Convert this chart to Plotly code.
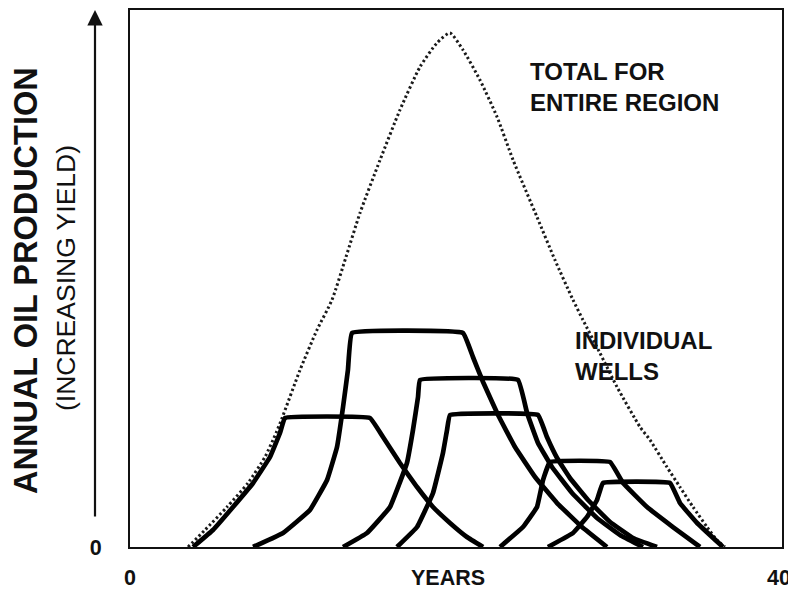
import plotly.graph_objects as go

# ---- data (years, relative annual yield 0-100) ----
total_x = [3.56, 4.60, 5.95, 7.24, 8.28, 8.96, 9.33, 10.43, 11.47, 12.39, 13.25, 14.11, 15.34, 16.56,
           17.79, 18.83, 19.63, 20.43, 21.47, 22.52, 23.50, 24.97, 26.07, 27.18, 27.79, 28.83, 29.88,
           31.29, 31.90, 32.94, 33.74, 34.54, 35.40, 36.01, 36.50]
total_y = [0, 3.17, 7.45, 11.92, 16.76, 21.23, 24.02, 32.96, 40.41, 46.00, 54.00, 62.20, 72.07, 81.38,
           89.39, 93.85, 95.72, 92.55, 86.96, 80.07, 72.07, 61.45, 53.45, 46.00, 42.27, 36.13, 29.80,
           22.35, 19.93, 14.90, 11.17, 7.45, 3.72, 1.30, 0]

well_a_x = [3.87, 5.09, 6.32, 7.55, 8.59, 9.20, 9.51, 14.72, 15.52, 16.56, 17.61, 18.59, 19.63, 20.67, 21.66]
well_a_y = [0, 3.17, 7.45, 11.92, 16.76, 21.23, 24.02, 24.02, 20.48, 15.64, 11.17, 7.45, 4.47, 1.86, 0]

well_b_x = [7.55, 9.39, 11.04, 12.09, 12.70, 13.07, 13.37, 13.62, 20.43, 21.04, 21.66, 22.58, 23.62,
            24.85, 26.20, 27.73, 29.26]
well_b_y = [0, 2.61, 6.89, 12.48, 18.62, 26.07, 32.96, 39.85, 39.85, 35.38, 30.73, 24.58, 18.62,
            13.04, 8.19, 3.72, 0]

well_c_x = [13.07, 14.54, 15.95, 16.99, 17.36, 17.67, 17.79, 23.80, 24.36, 25.03, 25.89, 27.12, 28.65, 30.06, 31.47]
well_c_y = [0, 2.61, 7.45, 15.64, 21.79, 27.93, 31.10, 31.10, 24.95, 19.37, 14.90, 10.06, 5.40, 2.23, 0]

well_d_x = [16.38, 17.61, 18.59, 19.20, 19.45, 19.63, 25.03, 25.58, 26.20, 26.99, 28.10, 29.45, 30.86, 32.33]
well_d_y = [0, 3.72, 10.06, 17.50, 21.79, 24.58, 24.58, 20.48, 16.57, 12.85, 8.75, 4.66, 1.68, 0]

well_e_x = [22.70, 24.11, 24.97, 25.34, 25.77, 29.45, 30.25, 31.72, 33.31, 34.97]
well_e_y = [0, 3.72, 7.45, 12.48, 15.83, 15.83, 11.92, 7.45, 3.72, 0]

well_f_x = [25.64, 27.18, 28.04, 28.65, 29.02, 33.13, 33.74, 34.79, 36.38]
well_f_y = [0, 2.61, 5.59, 8.75, 11.92, 11.92, 8.19, 4.47, 0]

wells = [(well_a_x, well_a_y), (well_b_x, well_b_y), (well_c_x, well_c_y),
         (well_d_x, well_d_y), (well_e_x, well_e_y), (well_f_x, well_f_y)]

x_tick_vals = [0, 19.5, 40]
x_tick_text = ["0", "YEARS", "40"]
y_tick_vals = [0]
y_tick_text = ["0"]

FONT = "Liberation Sans, Arial, sans-serif"
INK = "#111111"

fig = go.Figure()
fig.add_trace(go.Scatter(x=total_x, y=total_y, mode="lines",
                         line=dict(color="#1a1a1a", width=3, dash="2.4px,2.6px", shape="spline", smoothing=0.6),
                         hoverinfo="skip", showlegend=False))
for wx, wy in wells:
    fig.add_trace(go.Scatter(x=wx, y=wy, mode="lines",
                             line=dict(color="black", width=4.7, shape="spline", smoothing=0.25),
                             hoverinfo="skip", showlegend=False))

# page has an 8px body margin, so the figure is drawn 8px lower/right
fig.update_layout(
    width=788, height=586,
    margin=dict(l=122, r=14, t=2, b=47),
    paper_bgcolor="white", plot_bgcolor="white",
    font=dict(family=FONT, color=INK),
    xaxis=dict(range=[0, 40], showgrid=False, zeroline=False, showline=True, linecolor="#111",
               linewidth=2, mirror=True, ticks="", showticklabels=False, automargin=False),
    yaxis=dict(range=[0, 100], showgrid=False, zeroline=False, showline=True, linecolor="#111",
               linewidth=2, mirror=True, ticks="", tickvals=y_tick_vals, ticktext=y_tick_text,
               automargin=False,
               tickfont=dict(size=21.5, weight="bold", family=FONT, color=INK), ticklabelstandoff=22),
)

annotations = []
# x tick labels drawn from the tick arrays
for i, (v, t) in enumerate(zip(x_tick_vals, x_tick_text)):
    last = i == len(x_tick_vals) - 1
    annotations.append(dict(
        x=v, y=-(578 - 547) / 537, xref="x", yref="paper", text=t, showarrow=False,
        xanchor="right" if last else "center", xshift=11 if last else 0, yanchor="middle",
        font=dict(size=21.5, weight="bold", family=FONT, color=INK)))

annotations += [
    dict(x=(528 - 130) / 652, y=(547 - 87) / 537, xref="paper", yref="paper",
         text="TOTAL FOR<br>ENTIRE REGION", showarrow=False, xanchor="left", yanchor="middle",
         align="left", font=dict(size=24, weight="bold", family=FONT, color=INK)),
    dict(x=(573 - 130) / 652, y=(547 - 356) / 537, xref="paper", yref="paper",
         text="INDIVIDUAL<br>WELLS", showarrow=False, xanchor="left", yanchor="middle",
         align="left", font=dict(size=24, weight="bold", family=FONT, color=INK)),
    dict(x=(26 - 130) / 652, y=(547 - 281) / 537, xref="paper", yref="paper",
         text="ANNUAL OIL PRODUCTION", showarrow=False, textangle=-90, xanchor="center", yanchor="middle",
         font=dict(size=32.5, weight="bold", family=FONT, color=INK)),
    dict(x=(66 - 130) / 652, y=(547 - 278) / 537, xref="paper", yref="paper",
         text="(INCREASING YIELD)", showarrow=False, textangle=-90, xanchor="center", yanchor="middle",
         font=dict(size=26.5, family=FONT, color=INK)),
    dict(x=(95 - 130) / 652, y=1.0, xref="paper", yref="paper", text="", showarrow=True,
         axref="pixel", ayref="pixel", ax=0, ay=508, arrowhead=2, arrowsize=1.4, arrowwidth=2.2,
         arrowcolor=INK),
]
fig.update_layout(annotations=annotations)

fig.write_html("out.html")
